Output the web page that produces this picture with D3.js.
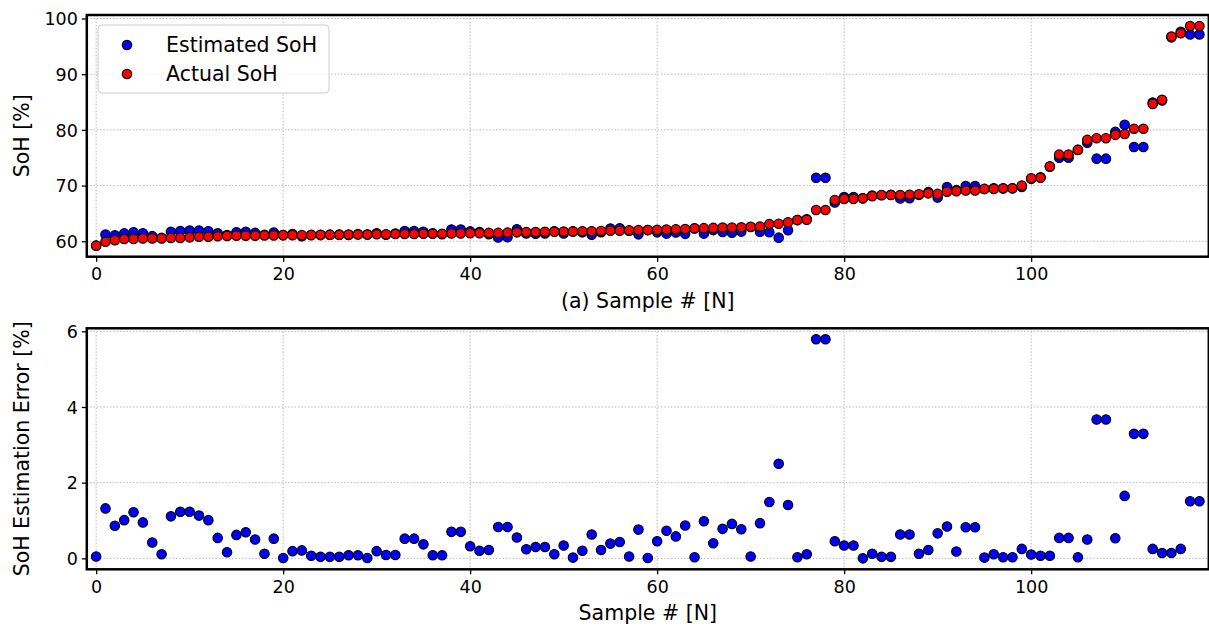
<!DOCTYPE html>
<html>
<head>
<meta charset="utf-8">
<script src="https://cdn.jsdelivr.net/npm/d3@7"></script>
<style>
  html, body { margin: 0; padding: 0; background: #fff; }
  svg { display: block; font-family: "DejaVu Sans", sans-serif; }
</style>
</head>
<body>
<svg id="chart" width="1209" height="628"></svg>
<script>
// Actual state of health per sample [%]
const actualSoH = [
  59.2, 59.9, 60.2, 60.4, 60.4, 60.5, 60.5, 60.5, 60.6, 60.6,
  60.7, 60.8, 60.8, 60.9, 60.95, 61.0, 61.0, 61.0, 61.05, 61.05,
  61.1, 61.1, 61.1, 61.1, 61.15, 61.15, 61.15, 61.2, 61.2, 61.2,
  61.25, 61.25, 61.3, 61.3, 61.3, 61.35, 61.35, 61.35, 61.4, 61.4,
  61.45, 61.45, 61.5, 61.5, 61.55, 61.6, 61.65, 61.65, 61.7, 61.7,
  61.75, 61.75, 61.8, 61.8, 61.85, 61.9, 61.9, 61.95, 62.0, 62.0,
  62.05, 62.1, 62.15, 62.2, 62.3, 62.35, 62.4, 62.45, 62.45, 62.5,
  62.6, 62.65, 63.1, 63.15, 63.4, 63.8, 63.85, 65.6, 65.6, 67.4,
  67.6, 67.6, 67.7, 68.1, 68.3, 68.3, 68.3, 68.35, 68.45, 68.6,
  68.5, 68.9, 69.0, 69.1, 69.1, 69.4, 69.4, 69.5, 69.5, 70.0,
  71.3, 71.4, 73.45, 75.55, 75.55, 76.4, 78.2, 78.5, 78.5, 79.1,
  79.25, 80.2, 80.2, 84.65, 85.4, 96.75, 97.35, 98.65, 98.65
];

// Estimated state of health per sample [%]
const estimatedSoH = [
  59.25, 61.22, 61.06, 61.41, 61.62, 61.45, 60.92, 60.61, 61.71, 61.83,
  61.93, 61.93, 61.81, 61.44, 61.11, 61.62, 61.69, 61.50, 61.17, 61.57,
  61.11, 61.29, 60.89, 61.17, 61.11, 61.19, 61.19, 61.12, 61.28, 61.21,
  61.44, 61.16, 61.39, 61.82, 61.82, 61.72, 61.43, 61.27, 62.10, 62.10,
  61.77, 61.65, 61.28, 60.67, 60.72, 62.15, 61.41, 61.35, 61.40, 61.81,
  61.41, 61.77, 61.60, 61.17, 61.63, 62.29, 62.33, 61.90, 61.24, 62.01,
  61.60, 61.37, 61.57, 61.33, 62.33, 61.37, 62.00, 61.67, 61.54, 61.73,
  62.55, 61.72, 61.61, 60.65, 61.99, 63.83, 63.96, 71.39, 71.39, 66.95,
  67.94, 67.94, 67.70, 68.22, 68.26, 68.34, 67.67, 67.72, 68.33, 68.82,
  67.84, 69.74, 69.18, 69.92, 69.92, 69.38, 69.51, 69.47, 69.53, 69.75,
  71.20, 71.47, 73.38, 75.01, 75.01, 76.43, 77.70, 74.83, 74.83, 79.63,
  80.90, 76.91, 76.91, 84.90, 85.26, 96.61, 97.60, 97.14, 97.14
];

// Absolute estimation error per sample [%]
const estimationError = [
  0.05, 1.32, 0.86, 1.01, 1.22, 0.95, 0.42, 0.11, 1.11, 1.23,
  1.23, 1.13, 1.01, 0.54, 0.16, 0.62, 0.69, 0.50, 0.12, 0.52,
  0.01, 0.19, 0.21, 0.07, 0.04, 0.04, 0.04, 0.08, 0.08, 0.01,
  0.19, 0.09, 0.09, 0.52, 0.52, 0.37, 0.08, 0.08, 0.70, 0.70,
  0.32, 0.20, 0.22, 0.83, 0.83, 0.55, 0.24, 0.30, 0.30, 0.11,
  0.34, 0.02, 0.20, 0.63, 0.22, 0.39, 0.43, 0.05, 0.76, 0.01,
  0.45, 0.73, 0.58, 0.87, 0.03, 0.98, 0.40, 0.78, 0.91, 0.77,
  0.05, 0.93, 1.49, 2.50, 1.41, 0.03, 0.11, 5.79, 5.79, 0.45,
  0.34, 0.34, 0.00, 0.12, 0.04, 0.04, 0.63, 0.63, 0.12, 0.22,
  0.66, 0.84, 0.18, 0.82, 0.82, 0.02, 0.11, 0.03, 0.03, 0.25,
  0.10, 0.07, 0.07, 0.54, 0.54, 0.03, 0.50, 3.67, 3.67, 0.53,
  1.65, 3.29, 3.29, 0.25, 0.14, 0.14, 0.25, 1.51, 1.51
];

const xTicks = [0, 20, 40, 60, 80, 100];
const sohTicks = [60, 70, 80, 90, 100];
const errTicks = [0, 2, 4, 6];

const legendLabels = ["Estimated SoH", "Actual SoH"];
const xLabelTop = "(a) Sample # [N]";
const xLabelBottom = "Sample # [N]";
const yLabelTop = "SoH [%]";
const yLabelBottom = "SoH Estimation Error [%]";

const BLUE = "#0000ff", RED = "#ff0000";
const tickFont = 17.5, labelFont = 20.5;
const markerR = 4.7;

const svg = d3.select("#chart");
const plotLeft = 86.8, plotRight = 1208.8;

const x = d3.scaleLinear().domain([-1, 119]).range([plotLeft, plotRight]);

// matplotlib-style 5% margins around the data
function padded(lo, hi) {
  const m = (hi - lo) * 0.05;
  return [lo - m, hi + m];
}
const sohExtent = d3.extent(actualSoH.concat(estimatedSoH));
const errExtent = d3.extent(estimationError);

const panels = [
  { top: 15, bottom: 256.7, domain: padded(sohExtent[0], sohExtent[1]), ticks: sohTicks,
    xLabel: xLabelTop, yLabel: yLabelTop, xLabelY: 307.5, xTickY: 280.5 },
  { top: 328.3, bottom: 569.3, domain: padded(errExtent[0], errExtent[1]), ticks: errTicks,
    xLabel: xLabelBottom, yLabel: yLabelBottom, xLabelY: 619.5, xTickY: 593 }
];

panels.forEach((p, k) => {
  p.y = d3.scaleLinear().domain(p.domain).range([p.bottom, p.top]);
  const g = svg.append("g");
  const h = p.bottom - p.top;

  const clipId = "clip" + k;
  svg.append("clipPath").attr("id", clipId)
    .append("rect").attr("x", plotLeft).attr("y", p.top)
    .attr("width", plotRight - plotLeft).attr("height", h);

  // dotted grid
  const grid = g.append("g").attr("class", "grid");
  grid.selectAll("line.gx").data(xTicks).join("line")
    .attr("x1", d => x(d)).attr("x2", d => x(d))
    .attr("y1", p.top).attr("y2", p.bottom);
  grid.selectAll("line.gy").data(p.ticks).join("line")
    .attr("x1", plotLeft).attr("x2", plotRight)
    .attr("y1", d => p.y(d)).attr("y2", d => p.y(d));
  grid.selectAll("line")
    .attr("stroke", "#b8b8b8").attr("stroke-width", 1)
    .attr("stroke-dasharray", "1.5,1.8");

  // axes
  const xAxis = d3.axisBottom(x).tickValues(xTicks).tickSize(5).tickPadding(4)
    .tickFormat(d3.format("d"));
  const gx = g.append("g").attr("transform", `translate(0,${p.bottom})`).call(xAxis);
  const yAxis = d3.axisLeft(p.y).tickValues(p.ticks).tickSize(5).tickPadding(4)
    .tickFormat(d3.format("d"));
  const gy = g.append("g").attr("transform", `translate(${plotLeft},0)`).call(yAxis);
  [gx, gy].forEach(a => {
    a.select(".domain").remove();
    a.selectAll(".tick line").attr("stroke", "#000").attr("stroke-width", 1.3);
    a.selectAll(".tick text").attr("font-size", tickFont).attr("fill", "#000")
      .attr("font-family", "DejaVu Sans");
  });
  gx.selectAll(".tick text").attr("dy", null).attr("y", p.xTickY - p.bottom);
  gy.selectAll(".tick text").attr("x", -9).attr("dy", "0.36em");

  // data markers
  const pts = g.append("g").attr("clip-path", `url(#${clipId})`);
  function scatter(values, color) {
    pts.append("g").selectAll("circle").data(values).join("circle")
      .attr("cx", (d, i) => x(i)).attr("cy", d => p.y(d))
      .attr("r", markerR).attr("fill", color)
      .attr("stroke", "#000").attr("stroke-width", 1.2);
  }
  if (k === 0) {
    scatter(estimatedSoH, BLUE);
    scatter(actualSoH, RED);
  } else {
    scatter(estimationError, BLUE);
  }

  // frame
  g.append("rect").attr("x", plotLeft).attr("y", p.top)
    .attr("width", plotRight - plotLeft).attr("height", h)
    .attr("fill", "none").attr("stroke", "#000").attr("stroke-width", 2.5);

  // axis titles
  g.append("text").attr("x", (plotLeft + plotRight) / 2).attr("y", p.xLabelY)
    .attr("text-anchor", "middle").attr("font-size", labelFont).text(p.xLabel);
  g.append("text")
    .attr("transform", `translate(${29},${(p.top + p.bottom) / 2}) rotate(-90)`)
    .attr("text-anchor", "middle").attr("font-size", labelFont).text(p.yLabel);

  // legend (top panel only)
  if (k === 0) {
    const lg = g.append("g");
    lg.append("rect").attr("x", 98).attr("y", 25).attr("width", 231).attr("height", 68)
      .attr("rx", 4).attr("fill", "#fff").attr("fill-opacity", 0.85)
      .attr("stroke", "#cccccc").attr("stroke-width", 1);
    const colors = [BLUE, RED];
    legendLabels.forEach((t, j) => {
      const cy = 45 + j * 29;
      lg.append("circle").attr("cx", 127).attr("cy", cy).attr("r", markerR)
        .attr("fill", colors[j]).attr("stroke", "#000").attr("stroke-width", 1.2);
      lg.append("text").attr("x", 166).attr("y", cy).attr("dy", "0.36em")
        .attr("font-size", labelFont).text(t);
    });
  }
});
</script>
</body>
</html>
